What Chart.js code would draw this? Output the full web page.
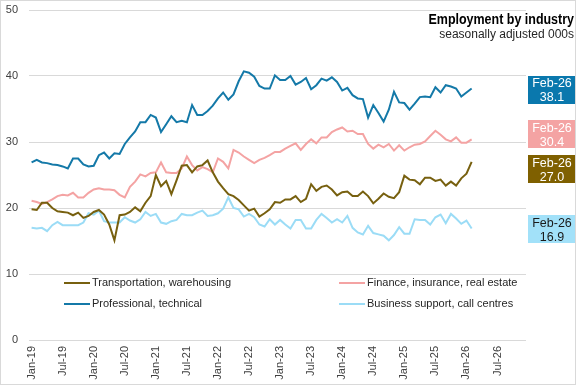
<!DOCTYPE html>
<html>
<head>
<meta charset="utf-8">
<script src="https://cdn.jsdelivr.net/npm/chart.js@4.4.1/dist/chart.umd.min.js"></script>
<style>
  body { margin: 0; background: #fff; }
  canvas { display: block; }
</style>
</head>
<body>
<canvas id="chart" width="576" height="385"></canvas>
<script>
// categories: Jan-19 .. Dec-26 (data runs to Feb-26)
var monthNames = ['Jan', 'Feb', 'Mar', 'Apr', 'May', 'Jun', 'Jul', 'Aug', 'Sep', 'Oct', 'Nov', 'Dec'];
var years = ['19', '20', '21', '22', '23', '24', '25', '26'];
var months = [];
years.forEach(function(y) {
	monthNames.forEach(function(m) { months.push(m + '-' + y); });
});

var transportation = [19.8, 19.7, 20.8, 20.8, 20.0, 19.5, 19.4, 19.3, 18.9, 19.3, 18.5, 18.8,
	19.4, 19.7, 19.0, 17.5, 15.1, 18.9, 19.0, 19.4, 20.1, 19.5, 20.8, 21.8,
	25.0, 23.3, 24.1, 22.1, 24.2, 26.4, 26.5, 25.4, 26.3, 26.5, 27.2, 25.4,
	24.0, 23.0, 22.1, 21.8, 21.2, 20.4, 19.6, 19.9, 18.7, 19.2, 19.8, 20.9,
	20.8, 21.3, 21.3, 21.8, 20.9, 21.4, 23.6, 22.6, 23.2, 23.4, 22.8, 21.9,
	22.4, 22.5, 21.8, 21.8, 22.5, 21.8, 20.7, 21.4, 22.2, 21.7, 21.5, 22.4,
	24.9, 24.3, 24.2, 23.6, 24.6, 24.6, 24.1, 24.3, 23.4, 24.0, 23.4, 24.5,
	25.2, 27.0];
var finance = [21.1, 20.9, 20.6, 20.9, 21.3, 21.8, 22.0, 21.9, 22.3, 21.6, 21.6, 22.3,
	22.8, 23.0, 22.8, 22.8, 22.7, 22.0, 21.6, 23.2, 24.0, 25.1, 24.8, 25.3,
	25.4, 26.9, 25.4, 25.3, 25.3, 26.0, 27.8, 26.5, 25.7, 26.2, 25.9, 25.4,
	27.5, 27.0, 26.0, 28.8, 28.4, 27.8, 27.3, 26.8, 27.3, 27.6, 28.0, 28.5,
	28.5, 29.0, 29.4, 29.8, 28.8, 29.7, 30.4, 29.8, 30.7, 30.7, 31.5, 31.9,
	32.2, 31.6, 31.7, 31.2, 31.2, 29.7, 29.0, 29.6, 29.2, 29.7, 28.7, 29.5,
	28.7, 29.2, 29.6, 29.7, 30.1, 30.9, 31.7, 31.1, 30.4, 30.1, 30.7, 29.9,
	29.9, 30.4];
var professional = [26.9, 27.3, 26.9, 26.8, 26.6, 26.5, 26.3, 26.0, 27.5, 27.5, 26.6, 26.3,
	26.4, 28.0, 28.4, 27.5, 28.3, 28.2, 29.7, 30.7, 31.6, 33.0, 33.0, 34.1,
	33.7, 31.5, 32.7, 33.9, 33.0, 33.2, 33.0, 35.6, 34.1, 34.1, 34.7, 35.5,
	36.6, 37.5, 36.4, 37.2, 39.2, 40.7, 40.5, 39.9, 38.5, 38.1, 38.1, 40.1,
	39.4, 39.4, 40.0, 38.7, 39.1, 39.7, 38.0, 38.6, 39.6, 39.3, 39.8, 39.1,
	37.8, 38.2, 37.1, 36.6, 36.5, 33.7, 35.6, 34.4, 33.1, 34.9, 37.6, 36.0,
	35.9, 34.9, 35.8, 36.8, 36.9, 36.8, 38.3, 37.5, 38.6, 38.4, 38.1, 36.9,
	37.5, 38.1];
var business = [17.0, 16.9, 17.0, 16.5, 17.4, 17.9, 17.4, 17.4, 17.4, 17.4, 17.8, 19.2,
	19.0, 19.6, 18.0, 17.8, 17.8, 17.8, 18.6, 18.1, 17.8, 18.3, 19.4, 18.8,
	19.1, 17.8, 17.6, 18.0, 18.2, 19.1, 18.9, 18.9, 19.3, 19.6, 18.8, 18.9,
	19.2, 19.9, 21.6, 20.0, 19.8, 18.7, 19.1, 18.6, 17.5, 17.2, 18.3, 17.5,
	18.2, 17.5, 16.9, 18.2, 18.2, 16.9, 16.9, 18.2, 19.1, 18.5, 17.8, 18.3,
	17.8, 18.8, 17.0, 16.3, 16.0, 17.3, 16.2, 16.0, 15.8, 15.1, 15.9, 17.1,
	16.1, 16.1, 18.3, 18.2, 18.2, 17.5, 18.6, 19.0, 17.7, 19.1, 18.4, 17.6,
	18.1, 16.9];
var yTicks = [0, 10, 20, 30, 40, 50];
var lastLabel = 'Feb-26';

var FONT = "'Liberation Sans Narrow', 'Arial Narrow', 'Liberation Sans', sans-serif";
Chart.defaults.font.family = FONT;
Chart.defaults.color = '#404040';

// inside legend, two columns
var legendInside = {
	id: 'legendInside',
	afterDraw: function(chart) {
		var ctx = chart.ctx, a = chart.chartArea;
		var cols = [a.left + 35, a.left + 310];
		var rows = [283, 304];
		ctx.save();
		ctx.font = '11px ' + FONT;
		ctx.textBaseline = 'middle';
		ctx.fillStyle = '#262626';
		chart.data.datasets.forEach(function(ds, i) {
			var x = cols[i % 2], y = rows[Math.floor(i / 2)];
			ctx.strokeStyle = ds.borderColor;
			ctx.lineWidth = 2;
			ctx.beginPath();
			ctx.moveTo(x, y);
			ctx.lineTo(x + 26, y);
			ctx.stroke();
			ctx.fillText(ds.label, x + 28, y);
		});
		ctx.restore();
	}
};

// boxes with the latest value at the right
var endLabels = {
	id: 'endLabels',
	afterDatasetsDraw: function(chart) {
		var ctx = chart.ctx, a = chart.chartArea, ys = chart.scales.y;
		var items = chart.data.datasets.map(function(ds) {
			var v = ds.data[ds.data.length - 1];
			return { v: v, y: ys.getPixelForValue(v) + 1, bg: ds.boxColor, fg: ds.boxText };
		});
		items.sort(function(p, q) { return p.y - q.y; });
		var h = 28, gap = 35;
		for (var k = 0; k < 5; k++) {
			for (var i = 1; i < items.length; i++) {
				var d = items[i].y - items[i - 1].y;
				if (d < gap) {
					var s = (gap - d) / 2;
					items[i - 1].y -= s;
					items[i].y += s;
				}
			}
		}
		ctx.save();
		ctx.font = '12.5px ' + FONT;
		ctx.textAlign = 'center';
		ctx.textBaseline = 'middle';
		items.forEach(function(it) {
			var x = a.right + 2, w = 48;
			ctx.fillStyle = it.bg;
			ctx.fillRect(x, Math.round(it.y - h / 2), w, h);
			ctx.fillStyle = it.fg;
			ctx.fillText(lastLabel, x + w / 2, it.y - 6);
			ctx.fillText(it.v.toFixed(1), x + w / 2, it.y + 8);
		});
		ctx.restore();
	}
};

var titles = {
	id: 'titles',
	afterDraw: function(chart) {
		var ctx = chart.ctx;
		ctx.save();
		ctx.textAlign = 'right';
		ctx.textBaseline = 'middle';
		ctx.fillStyle = '#000';
		ctx.font = 'bold 14.5px ' + FONT;
		ctx.save();
		ctx.translate(574, 20);
		ctx.scale(0.86, 1);
		ctx.fillText('Employment by industry', 0, 0);
		ctx.restore();
		ctx.fillStyle = '#262626';
		ctx.font = '12px ' + FONT;
		ctx.fillText('seasonally adjusted 000s', 574, 35);
		ctx.strokeStyle = '#d9d9d9';
		ctx.lineWidth = 1;
		ctx.strokeRect(0.5, 0.5, chart.width - 1, chart.height - 1);
		ctx.restore();
	}
};

var ctx = document.getElementById('chart').getContext('2d');
var employmentChart = new Chart(ctx, {
	type: 'line',
	data: {
		labels: months,
		datasets: [{
			label: 'Transportation, warehousing',
			data: transportation,
			borderColor: '#77600f',
			boxColor: '#7f6000',
			boxText: '#ffffff'
		}, {
			label: 'Finance, insurance, real estate',
			data: finance,
			borderColor: '#f4a3a3',
			boxColor: '#f4a3a3',
			boxText: '#ffffff'
		}, {
			label: 'Professional, technical',
			data: professional,
			borderColor: '#1479a8',
			boxColor: '#0a78ad',
			boxText: '#ffffff'
		}, {
			label: 'Business support, call centres',
			data: business,
			borderColor: '#9bdcf6',
			boxColor: '#a2e1f9',
			boxText: '#1a1a1a'
		}]
	},
	options: {
		responsive: false,
		animation: false,
		layout: { padding: { top: 10, right: 50, left: 0, bottom: 0 } },
		elements: {
			line: { borderWidth: 2, tension: 0 },
			point: { radius: 0 }
		},
		plugins: {
			legend: { display: false },
			tooltip: { enabled: false }
		},
		scales: {
			x: {
				offset: true,
				grid: { display: false, drawTicks: false },
				border: { display: false },
				afterFit: function(s) { s.height = 45; s.paddingTop = 0; },
				ticks: {
					autoSkip: false,
					minRotation: 90,
					maxRotation: 90,
					padding: 6,
					font: { size: 11 },
					callback: function(v, i) { return i % 6 === 0 ? months[i] : null; }
				}
			},
			y: {
				min: 0,
				max: 50,
				afterBuildTicks: function(s) { s.ticks = yTicks.map(function(v) { return { value: v }; }); },
				afterFit: function(s) { s.width = 29; s.paddingTop = 0; s.paddingBottom = 0; },
				grid: { color: '#d9d9d9', drawTicks: false },
				border: { display: false },
				ticks: { padding: 11, font: { size: 11 } }
			}
		}
	},
	plugins: [legendInside, endLabels, titles]
});
</script>
</body>
</html>
